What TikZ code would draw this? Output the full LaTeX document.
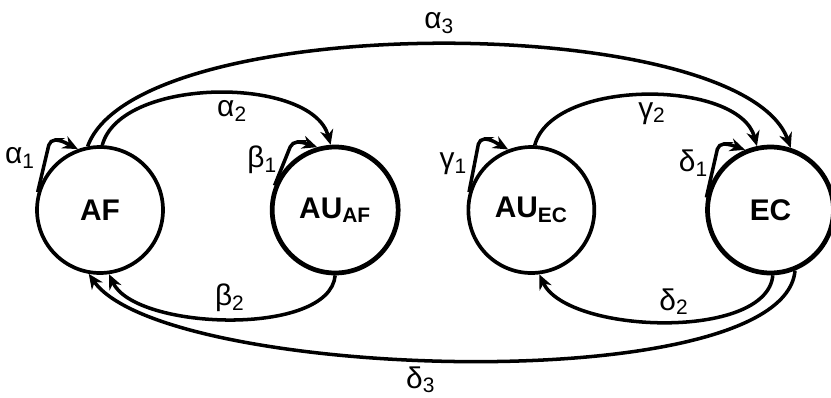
\documentclass[tikz,border=0pt]{standalone}
\usepackage{fontspec}
\setmainfont{Liberation Sans}
\usepackage{tikz}
\usetikzlibrary{arrows.meta, positioning, calc}

\begin{document}
\begin{tikzpicture}[
    x=0.02cm, y=0.02cm,
    state/.style={circle, draw=black, line width=2.1pt, minimum size=2.52cm, inner sep=0pt, align=center, font=\fontsize{17}{19}\selectfont\bfseries},
    heavy/.style={state, line width=2.7pt},
    lbl/.style={inner sep=1pt, font=\fontsize{17}{19}\selectfont},
    arrow/.style={-{Stealth[length=8.5pt, width=7.5pt]}, line width=2pt, black},
    selfloop/.style={arrow, rounded corners=3pt}
]

\useasboundingbox (0,0) rectangle (831,397);

% Nodes
\node (af) [state] at (100,187) {AF};
\node (auaf) [heavy, right=2.1cm of af] {AU\textsubscript{AF}};
\node (auec) [state, right=1.32cm of auaf] {AU\textsubscript{EC}};
\node (ec) [heavy, right=2.18cm of auec] {EC};

% Self loops
\draw [selfloop] (af.164) -- ($(af.center)+(-50,70)$) -- ($(af.center)+(-40,70)$) -- (af.110);
\draw [selfloop] (auaf.158) -- ($(auaf.center)+(-43,68)$) -- ($(auaf.center)+(-33,68)$) -- (auaf.106);
\draw [selfloop] (auec.164) -- ($(auec.center)+(-52,71)$) -- ($(auec.center)+(-42,71)$) -- (auec.111);
\draw [selfloop] (ec.169) -- ($(ec.center)+(-52,66)$) -- ($(ec.center)+(-42,66)$) -- (ec.113);

\node (la1) [lbl] at ($(af.center)+(-80,52)$) {α\textsubscript{1}};
\node (lb1) [lbl] at ($(auaf.center)+(-73,50)$) {β\textsubscript{1}};
\node (lg1) [lbl] at ($(auec.center)+(-78,46)$) {γ\textsubscript{1}};
\node (ld1) [lbl] at ($(ec.center)+(-77,47)$) {δ\textsubscript{1}};

% Arrows
\draw [arrow] (af.101) to[out=70, in=110, looseness=0.53] node (la3) [lbl, above=4pt] {α\textsubscript{3}} (ec.72);
\draw [arrow] (af.88) to[out=75, in=105, looseness=0.8] node (la2) [lbl, pos=0.55, below=2pt] {α\textsubscript{2}} (auaf.94);
\draw [arrow] (auec.87) to[out=75, in=105, looseness=0.8] node (lg2) [lbl, pos=0.52, below=2pt] {γ\textsubscript{2}} (ec.102);
\draw [arrow] (auaf.270) to[out=-95, in=-65, looseness=0.7] node (lb2) [lbl, pos=0.5, above=2pt] {β\textsubscript{2}} (af.-82);
\draw [arrow] (ec.-88) to[out=-95, in=-65, looseness=0.72] node (ld2) [lbl, pos=0.47, above=2pt] {δ\textsubscript{2}} (auec.-83);
\draw [arrow] (ec.-68) to[out=-95, in=-55, looseness=0.47] node (ld3) [lbl, pos=0.545, below=2pt] {δ\textsubscript{3}} (af.-100);

\end{tikzpicture}
\end{document}
